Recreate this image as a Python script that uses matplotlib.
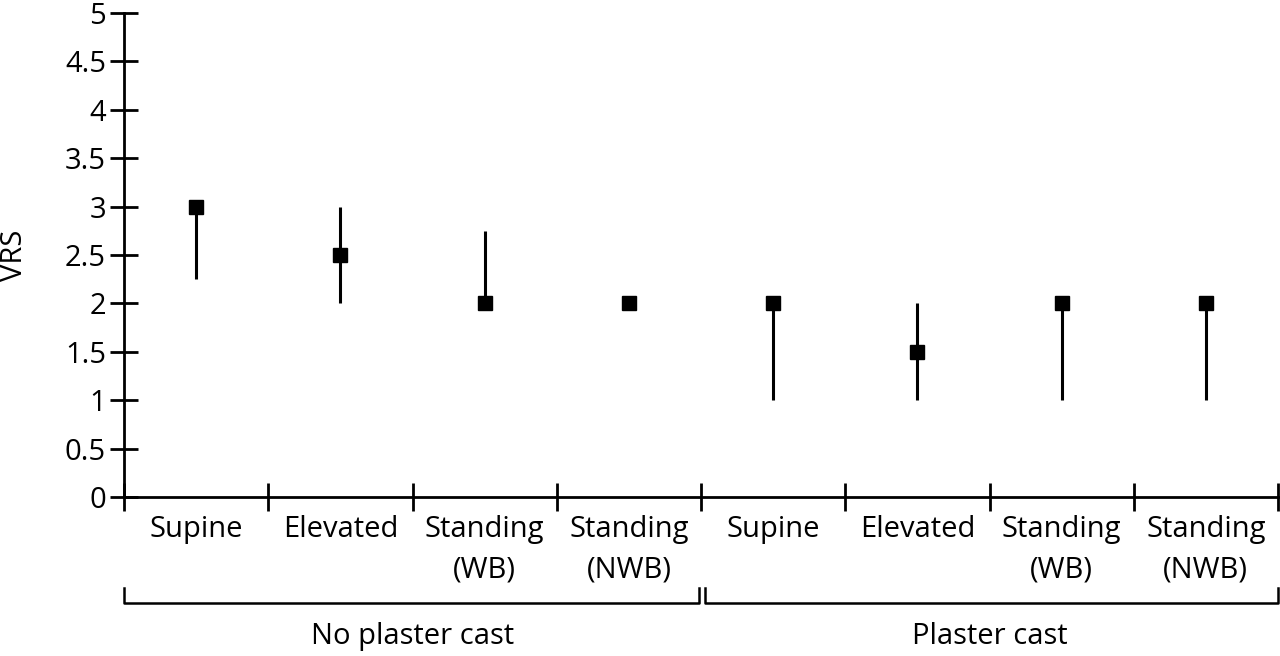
import numpy as np
import matplotlib.pyplot as plt

plt.rcParams['font.family'] = ['Open Sans', 'DejaVu Sans']

labels = ['Supine', 'Elevated', 'Standing\n(WB)', 'Standing\n(NWB)',
          'Supine', 'Elevated', 'Standing\n(WB)', 'Standing\n(NWB)']
groups = ['No plaster cast', 'Plaster cast']
median = [3, 2.5, 2, 2, 2, 1.5, 2, 2]
low = [2.25, 2, 2, 2, 1, 1, 1, 1]
high = [3, 3, 2.75, 2, 2, 2, 2, 2]

median = np.array(median)
low = np.array(low)
high = np.array(high)
x = np.arange(len(labels)) + 0.5

fs = 21
fig = plt.figure(figsize=(12.8, 6.56), dpi=100)
ax = fig.add_axes([124/1280, 1 - 497/656, 1154/1280, 484/656])

ax.errorbar(x, median, yerr=[median - low, high - median], fmt='s', color='black',
            markersize=10, elinewidth=2.2, capsize=0)

ax.set_xlim(0, 8)
ax.set_ylim(0, 5)
ax.set_yticks(np.arange(0, 5.01, 0.5))
ax.set_yticklabels(['0', '0.5', '1', '1.5', '2', '2.5', '3', '3.5', '4', '4.5', '5'])
ax.set_xticks(np.arange(0, 9))
ax.set_xticklabels([])
ax.set_xticks(x, minor=True)
ax.set_xticklabels(labels, minor=True, fontsize=fs, linespacing=1.5)
ax.tick_params(axis='x', which='minor', length=0, pad=13)
ax.tick_params(axis='both', which='major', direction='inout', length=20, width=2,
               labelsize=fs, pad=2)
ax.tick_params(axis='y', pad=3)
for s in ['top', 'right']:
    ax.spines[s].set_visible(False)
for s in ['left', 'bottom']:
    ax.spines[s].set_linewidth(2)

fig.text(14/1280, 1 - 255/656, 'VRS', rotation=90, ha='center', va='center', fontsize=fs)

tr = ax.get_xaxis_transform()
for i, (a, b) in enumerate([(0.0, 3.985), (4.03, 8.0)]):
    ax.plot([a, a, b, b], [-0.188, -0.219, -0.219, -0.188], color='black', lw=1.8,
            transform=tr, clip_on=False)
    ax.text((i * 4 + 4 * (i + 1)) / 2, -0.288, groups[i], transform=tr, ha='center',
            va='center', fontsize=fs)

fig.savefig('out.png', dpi=100)
